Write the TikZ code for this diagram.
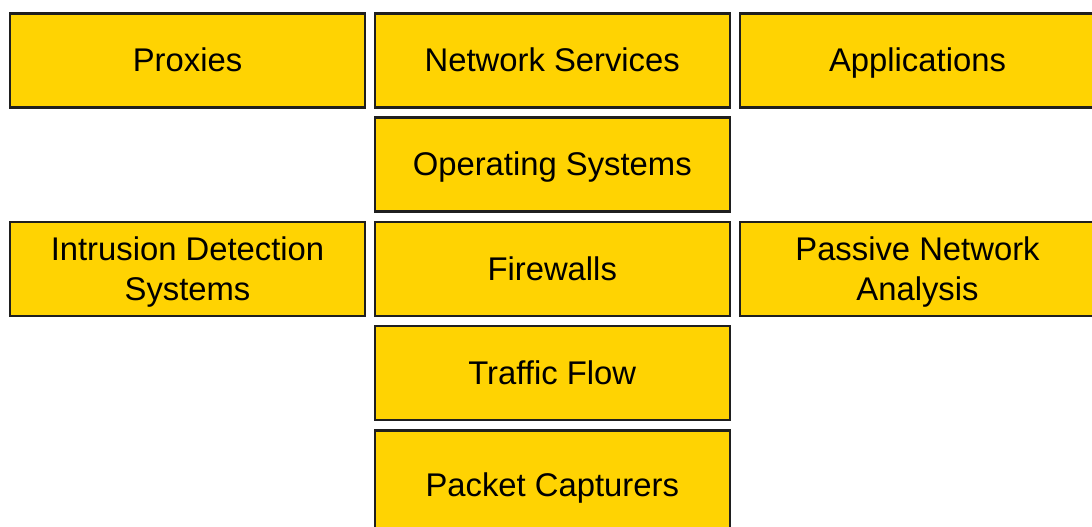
\documentclass[tikz,border=0pt]{standalone}
\usepackage{fontspec}
\setmainfont{Liberation Sans}
\definecolor{cellyellow}{RGB}{255,211,2}
% line strut with the font's full ascent and descent, so lines centre alike
\newcommand\lnstrut{\rule[-0.212em]{0pt}{1.117em}}
\begin{document}
\begin{tikzpicture}[x=1pt,y=-1pt,
  cell/.style={rectangle, draw=black!88, line width=2.4pt, fill=cellyellow,
    minimum width=355pt, minimum height=94pt, inner sep=0pt, align=center,
    font=\fontsize{32.8}{40.7}\selectfont}]
\useasboundingbox (0,0) rectangle (1092,527);
\clip (0,0) rectangle (1092,527);
% left column
\node[cell] (proxies) at (187.5,60.5) {\lnstrut Proxies};
\node[cell] (ids) at (187.5,269) {\lnstrut Intrusion Detection\\\lnstrut Systems};
% middle column
\node[cell] (netsvc) at (552.25,60.5) {\lnstrut Network Services};
\node[cell] (os) at (552.25,164.5) {\lnstrut Operating Systems};
\node[cell] (fw) at (552.25,269) {\lnstrut Firewalls};
\node[cell] (flow) at (552.25,373) {\lnstrut Traffic Flow};
\node[cell, minimum height=110pt] (pcap) at (552.25,485.5) {\lnstrut Packet Capturers};
% right column
\node[cell] (apps) at (917.5,60.5) {\lnstrut Applications};
\node[cell] (pna) at (917.5,269) {\lnstrut Passive Network\\\lnstrut Analysis};
\end{tikzpicture}
\end{document}
